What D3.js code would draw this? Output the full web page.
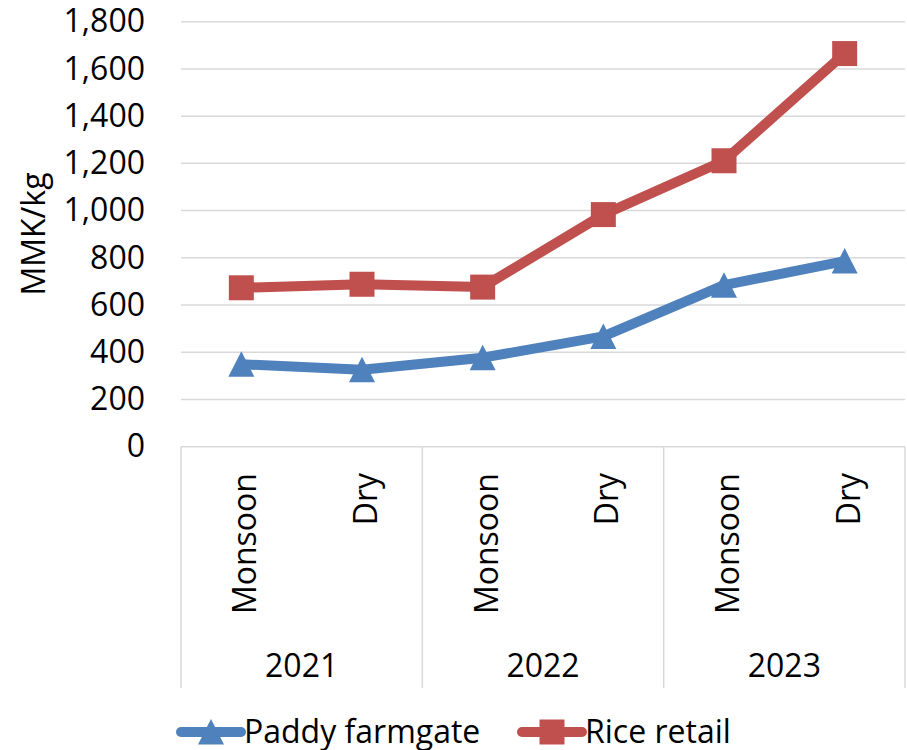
<!DOCTYPE html>
<html><head><meta charset="utf-8">
<script src="https://cdn.jsdelivr.net/npm/d3@7"></script>
<style>body{margin:0;background:#fff}svg{display:block}text{font-family:"Open Sans",sans-serif;fill:#000}</style>
</head><body><svg id="c" width="907" height="750"></svg>
<script>
const years = ["2021","2022","2023"];
const seasons = ["Monsoon","Dry"];
const categories = ["2021 Monsoon","2021 Dry","2022 Monsoon","2022 Dry","2023 Monsoon","2023 Dry"];
const paddy = [349, 326, 377, 467, 684, 786];
const rice = [673, 688, 676, 983, 1211, 1665];
const yTicks = [0,200,400,600,800,1000,1200,1400,1600,1800];
const seriesNames = ["Paddy farmgate","Rice retail"];

const svg = d3.select("#c");
const L = 181, R = 905, T = 21.7, B = 446.7;
const x = d3.scaleBand().domain(categories).range([L, R]);
const xg = d3.scaleBand().domain(years).range([L, R]);
const y = d3.scaleLinear().domain([0,1800]).range([B, T]);
const cx = c => x(c) + x.bandwidth()/2;
const grid = "#d9d9d9";
const blue = "#4f81bd", red = "#c0504d";

// gridlines
svg.append("g").selectAll("line").data(yTicks).join("line")
  .attr("x1", L).attr("x2", R).attr("y1", d=>y(d)).attr("y2", d=>y(d))
  .attr("stroke", grid).attr("stroke-width", 1.5);

// y axis labels
const yAxis = d3.axisLeft(y).tickValues(yTicks).tickFormat(d3.format(",")).tickSize(0).tickPadding(0);
const ga = svg.append("g").attr("transform", `translate(145,0)`).call(yAxis);
ga.select(".domain").remove();
ga.selectAll("text").attr("font-size", 32).attr("font-family", '"Open Sans",sans-serif').attr("fill","#000");

svg.append("text").attr("transform", "translate(45,234) rotate(-90)")
  .attr("text-anchor","middle").attr("font-size",32).text("MMK/kg");

// category box
const bottom = 688;
svg.append("g").selectAll("line").data(years.concat(["end"])).join("line")
  .attr("x1", d => d==="end" ? R : xg(d)).attr("x2", d => d==="end" ? R : xg(d))
  .attr("y1", B).attr("y2", bottom).attr("stroke", grid).attr("stroke-width", 1.5);

// season labels
svg.append("g").selectAll("text").data(categories).join("text")
  .attr("transform", d => `translate(${cx(d)+15},473) rotate(-90)`)
  .attr("text-anchor","end").attr("font-size",32)
  .text((d,i) => seasons[i%2]);

// year labels
svg.append("g").selectAll("text").data(years).join("text")
  .attr("x", d => xg(d) + xg.bandwidth()/2).attr("y", 677)
  .attr("text-anchor","middle").attr("font-size",32).text(d=>d);

// lines
const line = d3.line().x((d,i)=>cx(categories[i])).y(d=>y(d));
const tri = d3.symbol().type(d3.symbolTriangle).size(330);
function series(vals, color, marker) {
  svg.append("path").datum(vals).attr("d", line).attr("fill","none")
    .attr("stroke", color).attr("stroke-width", 10).attr("stroke-linejoin","round");
  const g = svg.append("g");
  vals.forEach((v,i) => drawMarker(g, cx(categories[i]), y(v), color, marker));
}
function drawMarker(g, px, py, color, marker) {
  if (marker === "tri") {
    g.append("path").attr("d", "M0,-13L13,12.5L-13,12.5Z").attr("transform", `translate(${px},${py})`).attr("fill", color);
  } else {
    g.append("rect").attr("x", px-12.5).attr("y", py-12.5).attr("width",25).attr("height",25).attr("fill", color);
  }
}
series(paddy, blue, "tri");
series(rice, red, "sq");

// legend
const lg = svg.append("g");
const legendItems = [
  {name: seriesNames[0], color: blue, marker: "tri", x0: 181},
  {name: seriesNames[1], color: red, marker: "sq", x0: 522}
];
legendItems.forEach(it => {
  lg.append("line").attr("x1", it.x0).attr("x2", it.x0+60).attr("y1",732).attr("y2",732)
    .attr("stroke", it.color).attr("stroke-width",10).attr("stroke-linecap","round");
  drawMarker(lg, it.x0+30, 732, it.color, it.marker);
  lg.append("text").attr("x", it.x0+63).attr("y", 743).attr("font-size",32).text(it.name);
});
</script></body></html>
